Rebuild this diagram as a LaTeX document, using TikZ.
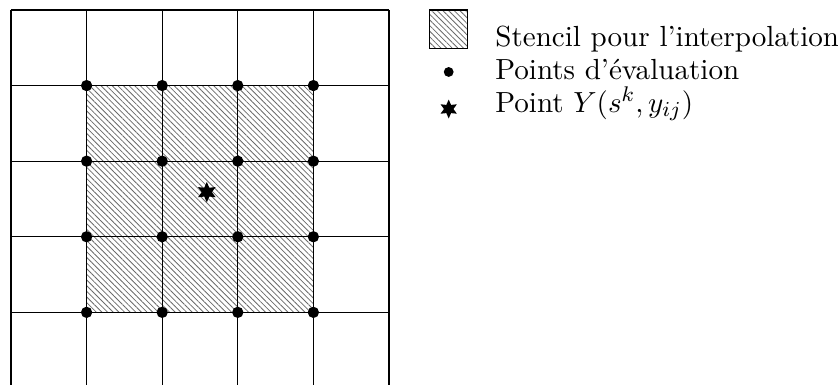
\documentclass[tikz,border=0pt]{standalone}
\usepackage{xcolor}
\usepackage{amsmath}
\usepackage{tikz}
\usetikzlibrary{patterns.meta,shapes.geometric}
\definecolor{hatchc}{HTML}{6A6A6A}
\definecolor{gridc}{HTML}{000000}

\begin{document}
\begin{tikzpicture}[x=1cm,y=1cm,
  stencil/.style={pattern={Lines[angle=-45,distance=1.5pt,line width=0.3pt]},pattern color=hatchc},
  evalpt/.style={circle,fill=black,inner sep=0pt,minimum size=0.15cm},
  target/.style={star,star points=6,star point ratio=2,fill=black,inner sep=0pt,minimum size=0.27cm},
  legtext/.style={anchor=base west,inner sep=0pt,font=\fontsize{10.95}{13.6}\selectfont}]
  \useasboundingbox (-0.1455,0.04) rectangle (10.94,5.132);
  % stencil and grid
  \fill[stencil] (1,1) rectangle (4,4);
  \draw[gridc,line width=0.5pt] (0,0) grid (5,5);
  \foreach \i in {1,...,4}{
    \foreach \j in {1,...,4}{
      \node[evalpt] (p\i\j) at (\i,\j) {};}}
  \node[target] (ypt) at (2.59,2.59) {};
  % legend
  \node[stencil,draw,line width=0.4pt,minimum width=0.51cm,minimum height=0.51cm,inner sep=0pt] (legsten) at (5.785,4.745) {};
  \node[evalpt,minimum size=0.13cm] (legeval) at (5.79,4.18) {};
  \node[target,minimum size=0.25cm] (legypt) at (5.79,3.69) {};
  \node[legtext] (tsten) at (6.40,4.515) {Stencil pour l'interpolation};
  \node[legtext] (teval) at (6.40,4.08) {Points d'évaluation};
  \node[legtext] (typt) at (6.40,3.645) {Point $Y(s^k,y_{ij})$};
\end{tikzpicture}
\end{document}
